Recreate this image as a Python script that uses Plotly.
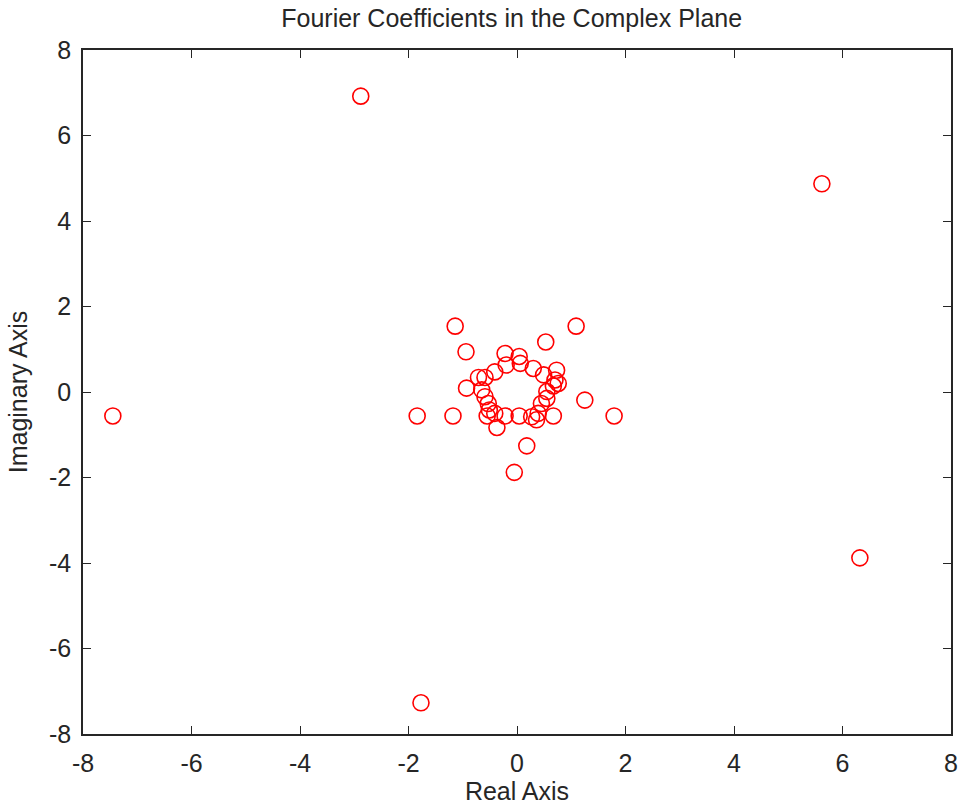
import plotly.graph_objects as go

# Fourier coefficients (real, imaginary)
real_part = [
    -2.88, 5.62, -7.45, 6.32, -1.77, -1.84, 1.79, -1.14, 1.09, 1.25,
    0.18, -0.05, -1.18, 0.53, -0.94, -0.22, 0.04, 0.06, -0.20, -0.41,
    0.30, 0.73, 0.49, -0.71, -0.59, 0.70, 0.76, 0.67, -0.93, -0.65,
    0.55, -0.59, 0.55, -0.53, 0.45, -0.51, -0.55, -0.41, -0.22, 0.04,
    0.27, 0.36, 0.67, -0.37, 0.39,
]
imag_part = [
    6.92, 4.87, -0.56, -3.88, -7.27, -0.56, -0.56, 1.54, 1.54, -0.19,
    -1.26, -1.88, -0.56, 1.17, 0.94, 0.90, 0.83, 0.67, 0.63, 0.47,
    0.55, 0.51, 0.40, 0.34, 0.34, 0.28, 0.20, 0.14, 0.09, 0.05,
    0.01, -0.11, -0.15, -0.27, -0.27, -0.42, -0.56, -0.50, -0.56, -0.56,
    -0.58, -0.65, -0.56, -0.83, -0.50,
]
tick_values = [-8, -6, -4, -2, 0, 2, 4, 6, 8]

FONT = "Liberation Sans, Arial, sans-serif"
FSIZE = 25

fig = go.Figure(
    go.Scatter(
        x=real_part,
        y=imag_part,
        mode="markers",
        marker=dict(
            symbol="circle-open",
            size=16,
            color="#ff0000",
            line=dict(width=1.6, color="#ff0000"),
        ),
        showlegend=False,
    )
)

axis_common = dict(
    tickvals=tick_values,
    ticktext=[str(v) for v in tick_values],
    ticks="inside",
    ticklen=8,
    tickwidth=1.2,
    tickcolor="#262626",
    showline=True,
    linecolor="#262626",
    linewidth=1.5,
    mirror="ticks",
    showgrid=False,
    zeroline=False,
    automargin=False,
    tickfont=dict(family=FONT, size=FSIZE, color="#262626"),
)

fig.update_layout(
    width=960,
    height=807,
    paper_bgcolor="white",
    plot_bgcolor="white",
    margin=dict(l=83, r=9, t=50, b=73),
    title=dict(
        text="Fourier Coefficients in the Complex Plane",
        x=0.533,
        xanchor="center",
        y=0.978,
        yanchor="middle",
        font=dict(family=FONT, size=FSIZE, color="#262626"),
    ),
    xaxis=dict(
        range=[-8, 8],
        ticklabelstandoff=6,
        title=dict(text="Real Axis", standoff=6,
                   font=dict(family=FONT, size=FSIZE, color="#262626")),
        **axis_common,
    ),
    yaxis=dict(
        range=[-8, 8],
        ticklabelstandoff=5,
        title=dict(text="Imaginary Axis", standoff=14,
                   font=dict(family=FONT, size=FSIZE, color="#262626")),
        **axis_common,
    ),
)

fig.write_html(
    "out.html",
    config={"displayModeBar": False},
    post_script="document.body.style.margin='0';document.body.style.padding='0';",
)
